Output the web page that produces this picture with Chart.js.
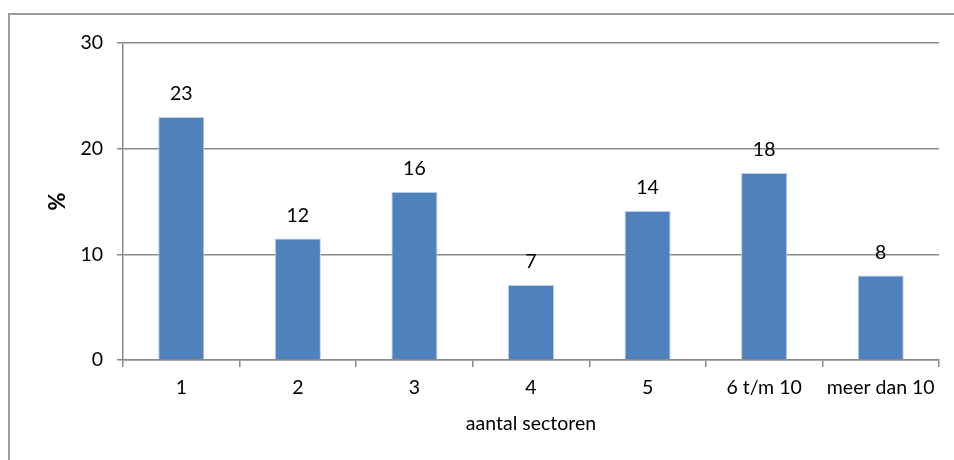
<!DOCTYPE html>
<html>
<head>
<meta charset="utf-8">
<script src="https://cdn.jsdelivr.net/npm/chart.js@4/dist/chart.umd.min.js"></script>
<style>
  html, body { margin: 0; padding: 0; background: #ffffff; }
  #wrap { width: 954px; height: 460px; position: relative; }
</style>
</head>
<body>
<div id="wrap"><canvas id="chart" width="954" height="460"></canvas></div>
<script>
// Share of respondents (%) by number of sectors
const categories = ['1', '2', '3', '4', '5', '6 t/m 10', 'meer dan 10'];
const percentages = [23.0, 11.5, 15.9, 7.1, 14.1, 17.7, 8.0];
const yTicks = [0, 10, 20, 30];

const FONT = 'Lato, "Open Sans", "Liberation Sans", sans-serif';
const TEXT_SIZE = 19.5;
const GRID = '#8a8a8a';

// Light frame around the whole chart object
const framePlugin = {
  id: 'frame',
  beforeDraw(chart) {
    const ctx = chart.ctx;
    ctx.save();
    ctx.strokeStyle = '#9c9c9c';
    ctx.lineWidth = 2;
    ctx.strokeRect(9, 14, chart.width + 20, chart.height + 20);
    ctx.restore();
  }
};

// Rounded value printed above each bar
const valueLabels = {
  id: 'valueLabels',
  afterDatasetsDraw(chart) {
    const ctx = chart.ctx;
    const meta = chart.getDatasetMeta(0);
    const data = chart.data.datasets[0].data;
    ctx.save();
    ctx.font = TEXT_SIZE + 'px ' + FONT;
    ctx.fillStyle = '#000000';
    ctx.textAlign = 'center';
    ctx.textBaseline = 'middle';
    meta.data.forEach((bar, i) => {
      ctx.fillText(String(Math.round(data[i])), bar.x, bar.y - 23);
    });
    ctx.restore();
  }
};

new Chart(document.getElementById('chart'), {
  type: 'bar',
  data: {
    labels: categories,
    datasets: [{
      data: percentages,
      backgroundColor: '#4f81bd',
      borderColor: '#b9cde5',
      borderWidth: 1,
      barPercentage: 1,
      categoryPercentage: 0.395
    }]
  },
  options: {
    responsive: false,
    animation: false,
    devicePixelRatio: 1,
    layout: { padding: { left: 40, top: 43, right: 15, bottom: 0 } },
    plugins: {
      legend: { display: false },
      tooltip: { enabled: false }
    },
    scales: {
      x: {
        afterFit(scale) { scale.height = 100; },
        grid: {
          offset: true,
          drawOnChartArea: false,
          drawTicks: true,
          tickLength: 7,
          color: GRID,
          lineWidth: 1.5
        },
        border: { display: true, color: GRID, width: 1.5 },
        ticks: {
          color: '#000000',
          font: { family: FONT, size: TEXT_SIZE },
          padding: 9,
          maxRotation: 0,
          autoSkip: false
        },
        title: {
          display: true,
          text: 'aantal sectoren',
          color: '#000000',
          font: { family: FONT, size: TEXT_SIZE, lineHeight: 1.2 },
          padding: { top: 0, bottom: 25 }
        }
      },
      y: {
        min: 0,
        max: 30,
        afterFit(scale) { scale.width = 83; },
        afterBuildTicks(scale) { scale.ticks = yTicks.map(v => ({ value: v })); },
        grid: {
          drawTicks: true,
          tickLength: 6,
          color: GRID,
          lineWidth: 1.5
        },
        border: { display: true, color: GRID, width: 1.5 },
        ticks: {
          color: '#000000',
          font: { family: FONT, size: TEXT_SIZE },
          padding: 14
        },
        title: {
          display: true,
          text: '%',
          color: '#000000',
          font: { family: FONT, size: 22, weight: 'bold', lineHeight: 1.2 },
          padding: { top: 5, bottom: 0 }
        }
      }
    }
  },
  plugins: [framePlugin, valueLabels]
});
</script>
</body>
</html>
